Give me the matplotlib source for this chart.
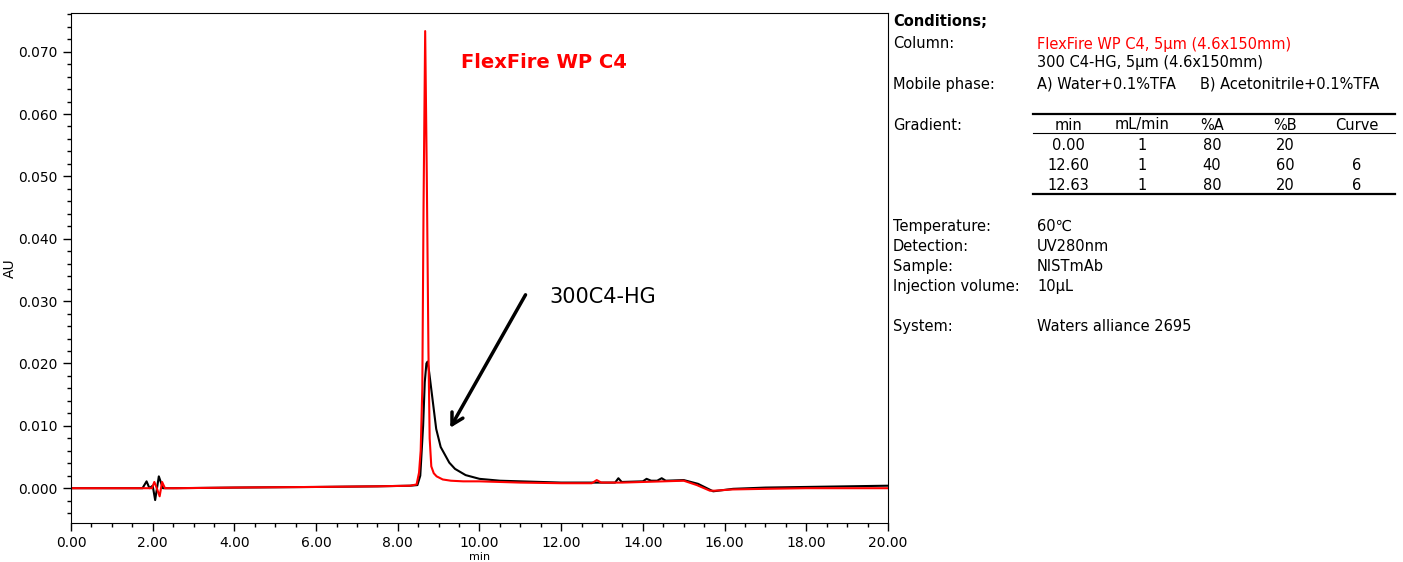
import matplotlib.pyplot as plt
from matplotlib.lines import Line2D
from matplotlib.ticker import MultipleLocator, FormatStrFormatter

# 300 C4-HG trace (black)
t_hg = [0, 1.75, 1.85, 1.92, 2.00, 2.06, 2.15, 2.25, 2.5, 4, 6, 7.5, 8.3, 8.48, 8.55, 8.62,
        8.66, 8.70, 8.73, 8.77, 8.84, 8.94, 9.05, 9.26, 9.40, 9.66, 10.0, 10.5, 11.0, 12.0,
        13.0, 13.32, 13.40, 13.48, 14.0, 14.09, 14.2, 14.35, 14.46, 14.56, 15.0, 15.35,
        15.72, 16.21, 17, 18, 19, 20]
au_hg = [0, 0, 0.0011, 0.0000, 0.0004, -0.0019, 0.0019, 0, 0, 0.0001, 0.0002, 0.0003, 0.0004,
         0.0005, 0.002, 0.010, 0.017, 0.0200, 0.0203, 0.0185, 0.0148, 0.0095, 0.0066, 0.0041,
         0.0031, 0.0021, 0.0015, 0.0012, 0.0011, 0.0009, 0.0009, 0.0009, 0.0016, 0.0010,
         0.0011, 0.0015, 0.0012, 0.0012, 0.0016, 0.0012, 0.0013, 0.0007, -0.0005, -0.0001,
         0.0001, 0.0002, 0.0003, 0.0004]

# FlexFire WP C4 trace (red)
t_ff = [0, 1.5, 1.98, 2.04, 2.10, 2.17, 2.23, 2.30, 2.6, 4, 6, 7.5, 8.3, 8.46, 8.52, 8.56,
        8.60, 8.63, 8.67, 8.71, 8.75, 8.78, 8.82, 8.88, 8.95, 9.10, 9.30, 9.60, 10.0, 11.0,
        12.0, 12.75, 12.87, 12.98, 13.5, 14.0, 14.5, 15.0, 15.32, 15.64, 15.75, 16.2, 17,
        18, 19, 20]
au_ff = [0, 0, 0, 0.001, 0.0, -0.0013, 0.001, 0, 0, 0.0001, 0.0002, 0.0003, 0.0004, 0.0006,
         0.0025, 0.006, 0.016, 0.045, 0.0733, 0.050, 0.022, 0.008, 0.0035, 0.0024, 0.0019,
         0.0014, 0.0012, 0.0011, 0.0011, 0.0009, 0.0008, 0.0008, 0.0013, 0.0009, 0.0009,
         0.0010, 0.0011, 0.0012, 0.0005, -0.0004, -0.0004, -0.0002, -0.0001, 0.0, 0.0, 0.0]

gradient_header = ["min", "mL/min", "%A", "%B", "Curve"]
gradient_rows = [["0.00", "1", "80", "20", ""],
                 ["12.60", "1", "40", "60", "6"],
                 ["12.63", "1", "80", "20", "6"]]

W, H = 1403, 562
fig = plt.figure(figsize=(W / 100, H / 100), dpi=100)
ax = fig.add_axes([71 / W, 1 - 522.5 / H, (888 - 71) / W, (522.5 - 13) / H])

ax.plot(t_hg, au_hg, color="black", lw=1.5)
ax.plot(t_ff, au_ff, color="#ff0000", lw=1.5)

ax.set_xlim(0, 20)
ax.set_ylim(-0.0055, 0.0762)
ax.xaxis.set_major_locator(MultipleLocator(2))
ax.xaxis.set_minor_locator(MultipleLocator(0.5))
ax.yaxis.set_major_locator(MultipleLocator(0.01))
ax.yaxis.set_minor_locator(MultipleLocator(0.002))
ax.xaxis.set_major_formatter(FormatStrFormatter("%.2f"))
ax.yaxis.set_major_formatter(FormatStrFormatter("%.3f"))
ax.tick_params(which="major", length=6, width=1, labelsize=10)
ax.tick_params(which="minor", length=3, width=1)
ax.set_xlabel("min", fontsize=8, labelpad=2)
ax.set_ylabel("AU", fontsize=10)
ax.yaxis.set_label_coords((17 - 71) / 817, 0.5)

ax.text(9.55, 0.0683, "FlexFire WP C4", color="#ff0000", fontsize=14,
        fontweight="bold", va="center")
ax.text(11.7, 0.0307, "300C4-HG", color="black", fontsize=15, va="center")
ax.annotate("", xy=(9.25, 0.0093), xytext=(11.16, 0.0314),
            arrowprops=dict(arrowstyle="->,head_length=0.8,head_width=0.45",
                            lw=2.5, color="black"))


def put(x, y, s, **kw):
    fig.text(x / W, 1 - y / H, s, va="center", fontsize=10.5, **kw)


put(893, 21, "Conditions;", fontweight="bold")
put(893, 44, "Column:")
put(1037, 44, "FlexFire WP C4, 5μm (4.6x150mm)", color="#ff0000")
put(1037, 63, "300 C4-HG, 5μm (4.6x150mm)")
put(893, 84, "Mobile phase:")
put(1037, 84, "A) Water+0.1%TFA")
put(1200, 84, "B) Acetonitrile+0.1%TFA")
put(893, 125, "Gradient:")

col_x = [1068, 1142, 1212, 1285, 1357]
for cx, h in zip(col_x, gradient_header):
    put(cx, 125, h, ha="center")
for ry, row in zip([145, 165, 185], gradient_rows):
    for cx, v in zip(col_x, row):
        put(cx, ry, v, ha="center")
for ly, lw in [(113.5, 1.6), (133, 0.8), (193.5, 1.6)]:
    fig.add_artist(Line2D([1033 / W, 1395 / W], [1 - ly / H, 1 - ly / H],
                          color="black", lw=lw))

conds = [("Temperature:", "60℃", 226.5), ("Detection:", "UV280nm", 246.5),
         ("Sample:", "NISTmAb", 266.5), ("Injection volume:", "10μL", 286.5),
         ("System:", "Waters alliance 2695", 326.5)]
for lab, val, y in conds:
    put(893, y, lab)
    put(1037, y, val)

fig.savefig("out.png", dpi=100)
